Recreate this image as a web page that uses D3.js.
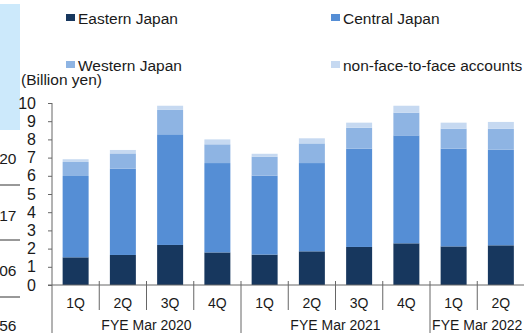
<!DOCTYPE html>
<html>
<head>
<meta charset="utf-8">
<script src="https://cdn.jsdelivr.net/npm/d3@7"></script>
<style>
  html, body { margin: 0; padding: 0; background: #fff; }
  svg { display: block; font-family: "Liberation Sans", Arial, sans-serif; }
</style>
</head>
<body>
<svg id="chart" width="524" height="333"></svg>
<script>
// ---- data ----
const quarters = ["1Q", "2Q", "3Q", "4Q", "1Q", "2Q", "3Q", "4Q", "1Q", "2Q"];
const fiscalYears = ["FYE Mar 2020", "FYE Mar 2021", "FYE Mar 2022"];
const yearSpans = [4, 4, 2];
const seriesNames = ["Eastern Japan", "Central Japan", "Western Japan", "non-face-to-face accounts"];
const eastern = [1.52, 1.65, 2.20, 1.79, 1.67, 1.85, 2.09, 2.29, 2.12, 2.18];
const central = [4.47, 4.74, 6.08, 4.91, 4.34, 4.85, 5.40, 5.93, 5.37, 5.26];
const western = [0.77, 0.84, 1.34, 1.03, 1.04, 1.08, 1.15, 1.25, 1.10, 1.15];
const nonFace = [0.15, 0.19, 0.23, 0.27, 0.16, 0.28, 0.28, 0.38, 0.33, 0.37];
const yTicks = [0, 1, 2, 3, 4, 5, 6, 7, 8, 9, 10];
const yLabel = "(Billion yen)";
// fragment of neighbouring slide at left edge
const edgeNumbers = ["20", "17", "06", "56"];

const colors = ["#17375e", "#558ed5", "#8eb4e3", "#c6d9f1"];

const svg = d3.select("#chart");
const keys = ["e", "c", "w", "n"];
const table = quarters.map((q, i) => ({ i, e: eastern[i], c: central[i], w: western[i], n: nonFace[i] }));
const stacked = d3.stack().keys(keys)(table);

const x = d3.scaleBand().domain(d3.range(quarters.length)).range([52, 524.5])
  .paddingInner(0.45).paddingOuter(0.225);
const y = d3.scaleLinear().domain([0, 10]).range([285, 103]);

// left edge fragment
svg.append("rect").attr("x", 0).attr("y", 4).attr("width", 20).attr("height", 126).attr("fill", "#cce9fb");
const edgeY = [158, 215, 270, 325];
svg.selectAll("text.edge").data(edgeNumbers).join("text").attr("class", "edge")
  .attr("x", 16.5).attr("y", (d, i) => edgeY[i] + 5.5).attr("text-anchor", "end")
  .attr("font-size", "15.5px").attr("fill", "#1a1a1a").text(d => d);
[185, 240, 297].forEach(yy => svg.append("line").attr("x1", 0).attr("x2", 20)
  .attr("y1", yy).attr("y2", yy).attr("stroke", "#333").attr("stroke-width", 1));

// bars
svg.append("g").selectAll("g").data(stacked).join("g")
  .attr("fill", (d, k) => colors[k])
  .selectAll("rect").data(d => d).join("rect")
  .attr("x", d => x(d.data.i))
  .attr("width", x.bandwidth())
  .attr("y", d => y(d[1]))
  .attr("height", d => y(d[0]) - y(d[1]));

// y axis
const yAxis = d3.axisLeft(y).tickValues(yTicks).tickSize(4).tickPadding(12).tickSizeOuter(0);
const gy = svg.append("g").attr("transform", "translate(52,0)").call(yAxis);
gy.select(".domain").remove();
gy.selectAll("line").attr("stroke", "#666");
gy.selectAll("text").attr("font-size", "16px").attr("fill", "#1a1a1a")
  .attr("font-family", "'Liberation Sans', Arial, sans-serif");
svg.append("line").attr("x1", 52).attr("x2", 52).attr("y1", y(10)).attr("y2", 333).attr("stroke", "#666");

// x axis line
svg.append("line").attr("x1", 48).attr("x2", 524).attr("y1", y(0)).attr("y2", y(0)).attr("stroke", "#666");

// category separators
const gap = (x.step() - x.bandwidth()) / 2;
const yearStarts = [];
let acc = 0;
yearSpans.forEach(s => { yearStarts.push(acc); acc += s; });
svg.append("g").selectAll("line").data(d3.range(1, quarters.length)).join("line")
  .attr("x1", i => x(i) - gap).attr("x2", i => x(i) - gap)
  .attr("y1", y(0) - 4)
  .attr("y2", i => yearStarts.includes(i) ? 333 : 310)
  .attr("stroke", "#666");

// quarter labels
svg.append("g").selectAll("text").data(quarters).join("text")
  .attr("x", (d, i) => x(i) + x.bandwidth() / 2).attr("y", 308)
  .attr("text-anchor", "middle").attr("font-size", "14px").attr("fill", "#1a1a1a").text(d => d);

// fiscal year labels
svg.append("g").selectAll("text").data(fiscalYears).join("text")
  .attr("x", (d, k) => {
    const a = x(yearStarts[k]) - gap;
    const b = x(yearStarts[k] + yearSpans[k] - 1) + x.bandwidth() + gap;
    return (a + b) / 2;
  })
  .attr("y", 330).attr("text-anchor", "middle").attr("font-size", "14px").attr("fill", "#1a1a1a")
  .text(d => d);

// unit label
svg.append("text").attr("x", 21).attr("y", 85).attr("font-size", "15.5px").attr("fill", "#1a1a1a").text(yLabel);

// legend
const legendPos = [[66, 14], [331, 14], [66, 61], [331, 61]];
const lg = svg.append("g").selectAll("g").data(seriesNames).join("g")
  .attr("transform", (d, k) => `translate(${legendPos[k][0]},${legendPos[k][1]})`);
lg.append("rect").attr("width", 9).attr("height", 7).attr("fill", (d, k) => colors[k]);
lg.append("text").attr("x", 12).attr("y", 9.5).attr("font-size", "15.5px").attr("fill", "#1a1a1a").text(d => d);
</script>
</body>
</html>
